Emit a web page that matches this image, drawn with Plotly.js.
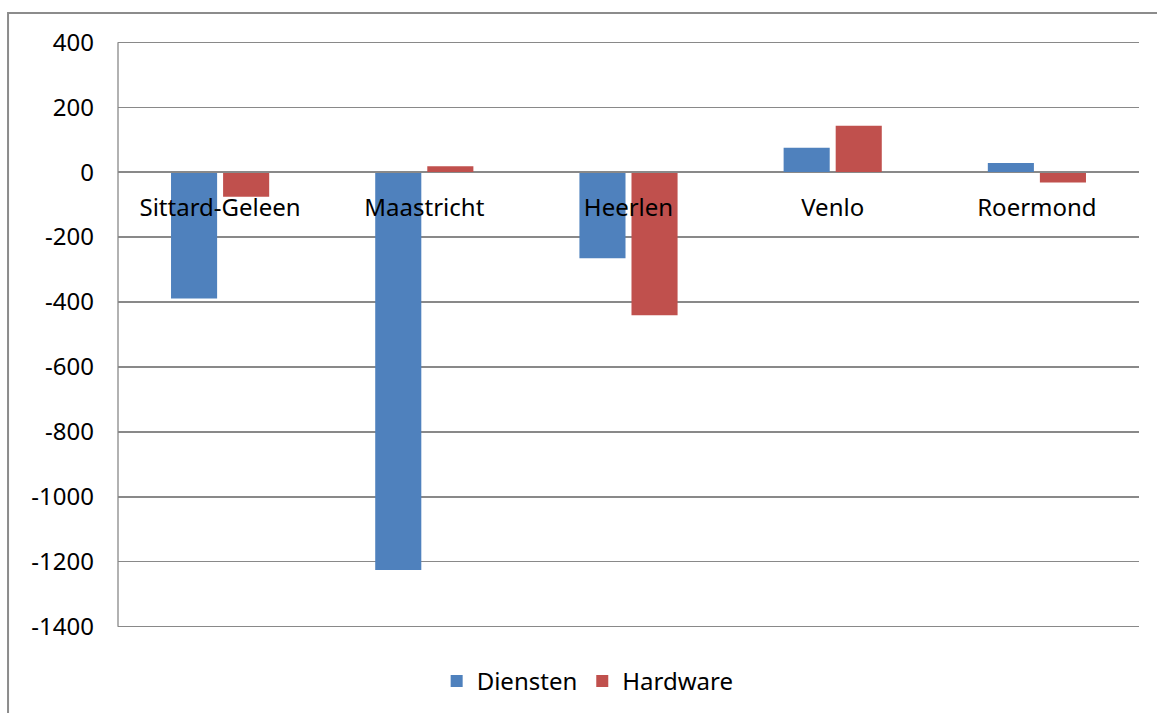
<!DOCTYPE html>
<html>
<head>
<meta charset="utf-8">
<script src="https://cdn.plot.ly/plotly-3.0.1.min.js"></script>
<style>html,body{margin:0;padding:0;background:#fff;}#chart{width:1157px;height:713px;}</style>
</head>
<body>
<div id="chart"></div>
<script>
const categories = ["Sittard-Geleen", "Maastricht", "Heerlen", "Venlo", "Roermond"];
const diensten = [-389, -1225, -265, 75, 28];
const hardware = [-76, 18, -441, 143, -32];
const seriesNames = ["Diensten", "Hardware"];
const yTicks = [400, 200, 0, -200, -400, -600, -800, -1000, -1200, -1400];

const yMin = -1410, yMax = 410;
const zeroPos = (0 - yMin) / (yMax - yMin);
const FONT = "Noto Sans, Open Sans, sans-serif";

const traces = [
  {type: "bar", name: seriesNames[0], x: categories, y: diensten, marker: {color: "#4F81BD"}},
  {type: "bar", name: seriesNames[1], x: categories, y: hardware, marker: {color: "#C0504D"}}
];

const layout = {
  width: 1157, height: 713,
  margin: {l: 118, r: 18, t: 39, b: 83, autoexpand: false},
  paper_bgcolor: "#fff", plot_bgcolor: "#fff",
  font: {family: FONT, size: 24, color: "#000"},
  barmode: "group",
  bargap: 0.49,
  bargroupgap: 0.115,
  showlegend: true,
  legend: {orientation: "h", x: 0.46, xanchor: "center", y: -0.049, yanchor: "top",
           font: {family: FONT, size: 24}, itemwidth: 30, traceorder: "normal"},
  xaxis: {
    type: "category",
    anchor: "free", position: zeroPos,
    showline: true, linecolor: "#898989", linewidth: 1.3,
    showgrid: false, ticks: "", zeroline: false,
    tickfont: {family: FONT, size: 24, color: "#000"},
    ticklabelstandoff: 14
  },
  yaxis: {
    range: [yMin, yMax],
    tickvals: yTicks, ticktext: yTicks.map(String),
    showgrid: true, gridcolor: "#898989", gridwidth: 1.3,
    zeroline: false,
    showline: false,
    ticks: "", ticklabelstandoff: 23,
    tickfont: {family: FONT, size: 24, color: "#000"}
  },
  shapes: [
    {
      type: "line", xref: "paper", yref: "y",
      x0: 0, x1: 0, y0: yTicks[yTicks.length - 1], y1: yTicks[0],
      line: {color: "#898989", width: 1.3}
    },
    {
      type: "path", xref: "paper", yref: "paper",
      path: "M -0.1077 -0.3 L -0.1077 1.044 L 1.1 1.044",
      line: {color: "#8c8c8c", width: 2}
    }
  ]
};

Plotly.newPlot("chart", traces, layout, {displayModeBar: false, staticPlot: true});
</script>
</body>
</html>
